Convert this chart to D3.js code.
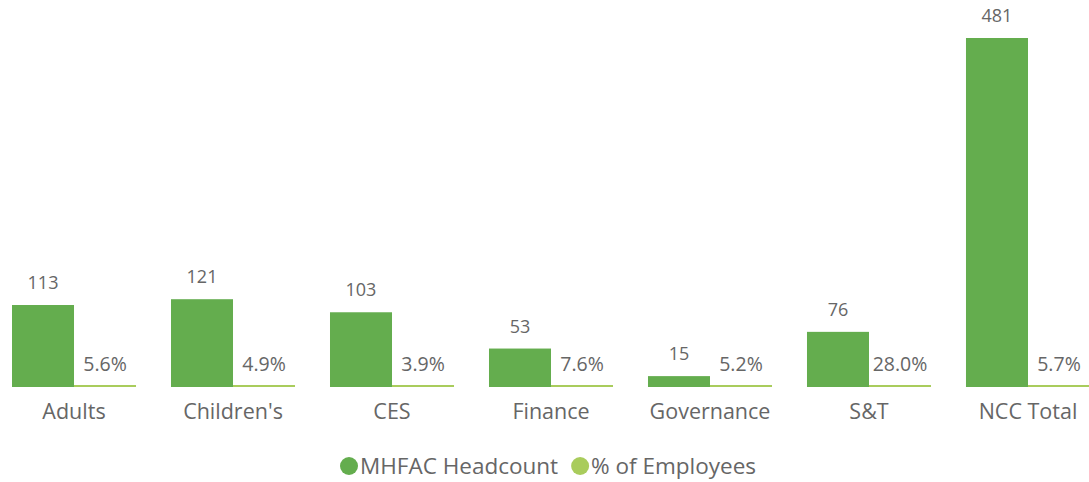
<!DOCTYPE html>
<html>
<head>
<meta charset="utf-8">
<script src="https://cdn.jsdelivr.net/npm/d3@7"></script>
<style>
  html, body { margin: 0; padding: 0; background: #ffffff; }
  svg { display: block; font-family: "Open Sans", "Noto Sans", sans-serif; }
</style>
</head>
<body>
<svg id="chart" width="1089" height="482"></svg>
<script>
// Departments and their mental health first aider figures
const categories = ["Adults", "Children's", "CES", "Finance", "Governance", "S&T", "NCC Total"];
const headcount = [113, 121, 103, 53, 15, 76, 481];
const pctEmployees = [0.056, 0.049, 0.039, 0.076, 0.052, 0.280, 0.057];
const seriesNames = ["MHFAC Headcount", "% of Employees"];

const colors = ["#64ad4e", "#a9cc5c"];
const textColor = "#666666";

const svg = d3.select("#chart");
const baseline = 387;
const plotTop = 38;

const x = d3.scaleBand().domain(categories).range([12, 1090]).paddingInner(0.22).paddingOuter(0);
const xs = d3.scaleBand().domain([0, 1]).range([0, x.bandwidth()]);
const y = d3.scaleLinear().domain([0, d3.max(headcount)]).range([baseline, plotTop]);

const rows = categories.map((c, i) => ({ cat: c, values: [headcount[i], pctEmployees[i]] }));

const g = svg.selectAll("g.group").data(rows).join("g")
  .attr("class", "group")
  .attr("transform", d => `translate(${x(d.cat)},0)`);

// headcount bars
g.append("rect")
  .attr("x", xs(0))
  .attr("width", xs.bandwidth())
  .attr("y", d => y(d.values[0]))
  .attr("height", d => baseline - y(d.values[0]))
  .attr("fill", colors[0]);

// percentage bars share the headcount axis, so keep a minimal visible height
g.append("rect")
  .attr("x", xs(1))
  .attr("width", xs.bandwidth())
  .attr("y", d => Math.min(y(d.values[1]), baseline - 2))
  .attr("height", d => Math.max(baseline - y(d.values[1]), 2))
  .attr("fill", colors[1]);

// value labels
g.append("text")
  .attr("x", xs(0) + xs.bandwidth() / 2)
  .attr("y", d => y(d.values[0]) - 16)
  .attr("text-anchor", "middle")
  .attr("font-size", 18)
  .attr("fill", textColor)
  .text(d => d.values[0]);

g.append("text")
  .attr("x", xs(1) + xs.bandwidth() / 2)
  .attr("y", d => Math.min(y(d.values[1]), baseline - 2) - 14)
  .attr("text-anchor", "middle")
  .attr("font-size", 19.5)
  .attr("fill", textColor)
  .text(d => d3.format(".1%")(d.values[1]));

// category axis
const axis = svg.append("g")
  .attr("transform", `translate(0,${baseline})`)
  .call(d3.axisBottom(x).tickSize(0).tickPadding(17));
axis.select(".domain").remove();
axis.selectAll("text")
  .attr("font-size", 21.5)
  .attr("font-family", "\"Open Sans\", \"Noto Sans\", sans-serif")
  .attr("fill", textColor);

// legend
const legend = svg.append("g").attr("transform", "translate(349,466)");
let lx = 0;
seriesNames.forEach((name, i) => {
  const item = legend.append("g").attr("transform", `translate(${lx},0)`);
  item.append("circle").attr("r", 9).attr("cx", 0).attr("cy", 0).attr("fill", colors[i]);
  const t = item.append("text")
    .attr("x", 11)
    .attr("y", 8)
    .attr("font-size", 22.5)
    .attr("fill", textColor)
    .text(name);
  lx += 11 + t.node().getComputedTextLength() + 22;
});
</script>
</body>
</html>
